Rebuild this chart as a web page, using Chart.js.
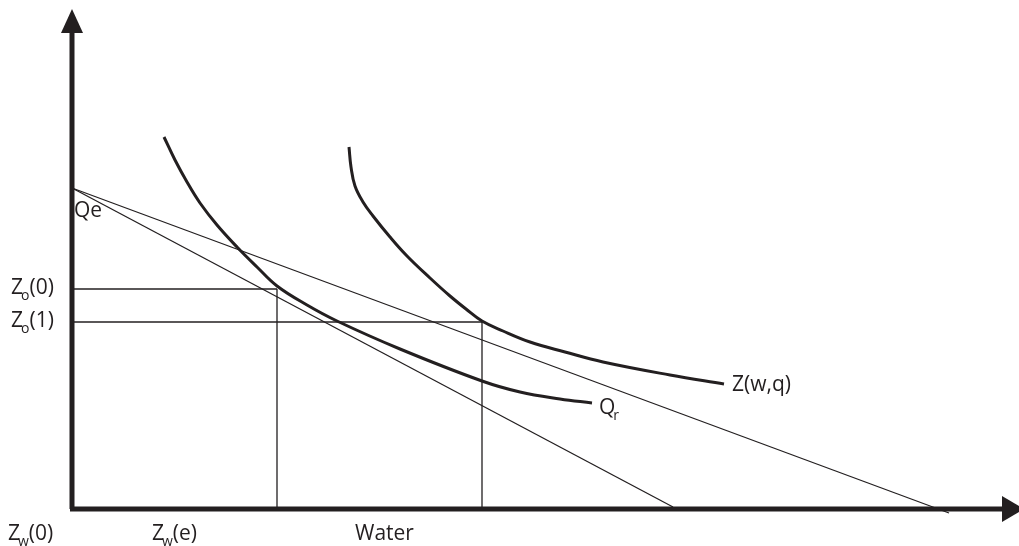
<!DOCTYPE html>
<html>
<head>
<meta charset="utf-8">
<script src="https://cdn.jsdelivr.net/npm/chart.js@4.4.1/dist/chart.umd.min.js"></script>
<style>
  html, body { margin: 0; padding: 0; background: #fff; }
  #wrap { width: 1019px; height: 546px; position: relative; }
</style>
</head>
<body>
<div id="wrap"><canvas id="chart"></canvas></div>
<script>
// curves (water on x, other goods on y)
const qrX = [92, 103, 115, 128, 145, 165, 185, 205, 235, 265, 328, 410, 448, 488, 520];
const qrY = [372, 349, 327, 306, 284, 262, 242, 223, 204, 188, 160, 128, 117, 110, 106];

const zX = [277, 279, 283, 291, 301, 318, 335, 358, 378, 394, 410, 431, 458, 493, 531, 598, 652];
const zY = [362, 342, 323, 307, 293, 272, 253, 231, 213, 200, 188, 178, 167, 157, 147, 134, 125];

// budget lines starting at Qe
const qeY = 321;
const budgetEndX = [877, 601];
const budgetEndY = [-4, 2];

// reference levels
const zoLevels = [220, 187];      // Zo(0), Zo(1)
const zwLevels = [205, 410];      // matching water amounts
const yTickLabels = ["0", "1"];

const INK = "#231f20";
const FONT = "'Open Sans', sans-serif";

function line(points, width) {
    return {
        data: points,
        showLine: true,
        borderColor: INK,
        borderWidth: width,
        pointRadius: 0,
        fill: false
    };
}

const datasets = [];

// axes
datasets.push(line([{ x: 0, y: 0 }, { x: 0, y: 478 }], 5));
datasets.push(line([{ x: -2, y: 0 }, { x: 932, y: 0 }], 5));

// budget lines
budgetEndX.forEach((bx, i) => {
    datasets.push(line([{ x: 0, y: qeY }, { x: bx, y: budgetEndY[i] }], 1.3));
});

// reference lines
zoLevels.forEach((lv, i) => {
    datasets.push(line([{ x: 0, y: lv }, { x: zwLevels[i], y: lv }], 1.3));
    datasets.push(line([{ x: zwLevels[i], y: lv }, { x: zwLevels[i], y: 0 }], 1.3));
});

// indifference curves
const curveQr = line(qrX.map((x, i) => ({ x: x, y: qrY[i] })), 3);
curveQr.tension = 0.4;
datasets.push(curveQr);
const curveZ = line(zX.map((x, i) => ({ x: x, y: zY[i] })), 3);
curveZ.tension = 0.4;
datasets.push(curveZ);

// text with optional subscript: parts = [[text, isSub], ...]
function drawLabel(ctx, px, py, parts) {
    let cx = px;
    parts.forEach(([t, sub]) => {
        ctx.font = (sub ? "14px " : "21px ") + FONT;
        ctx.fillText(t, sub ? cx - 2 : cx, sub ? py + 6 : py);
        cx += ctx.measureText(t).width - (sub ? 2 : 0);
    });
}

const decorations = {
    id: "decorations",
    afterDatasetsDraw(chart) {
        const ctx = chart.ctx;
        const xs = chart.scales.x, ys = chart.scales.y;
        const X = v => xs.getPixelForValue(v);
        const Y = v => ys.getPixelForValue(v);
        ctx.save();
        ctx.fillStyle = INK;

        // arrow heads
        ctx.beginPath();
        ctx.moveTo(X(0), Y(500));
        ctx.lineTo(X(0) - 11, Y(476));
        ctx.lineTo(X(0) + 11, Y(476));
        ctx.closePath();
        ctx.fill();
        ctx.beginPath();
        ctx.moveTo(X(952), Y(0));
        ctx.lineTo(X(930), Y(0) - 13);
        ctx.lineTo(X(930), Y(0) + 13);
        ctx.closePath();
        ctx.fill();

        ctx.textBaseline = "alphabetic";
        ctx.textAlign = "left";
        // y labels
        zoLevels.forEach((lv, i) => {
            drawLabel(ctx, 11, Y(lv) + 5, [["Z", false], ["o", true], ["(" + yTickLabels[i] + ")", false]]);
        });
        // x labels
        drawLabel(ctx, 8, 540, [["Z", false], ["w", true], ["(0)", false]]);
        drawLabel(ctx, 152, 540, [["Z", false], ["w", true], ["(e)", false]]);
        drawLabel(ctx, 355, 540, [["Water", false]]);
        // curve labels
        drawLabel(ctx, X(0) + 2, Y(qeY) + 29, [["Qe", false]]);
        const qrEnd = qrX.length - 1;
        drawLabel(ctx, X(qrX[qrEnd]) + 7, Y(qrY[qrEnd]) + 11, [["Q", false], ["r", true]]);
        const zEnd = zX.length - 1;
        drawLabel(ctx, X(zX[zEnd]) + 8, Y(zY[zEnd]) + 7, [["Z(w,q)", false]]);
        ctx.restore();
    }
};

new Chart(document.getElementById("chart"), {
    type: "scatter",
    data: { datasets: datasets },
    options: {
        responsive: true,
        maintainAspectRatio: false,
        animation: false,
        layout: { padding: 0 },
        clip: false,
        plugins: { legend: { display: false }, tooltip: { enabled: false } },
        scales: {
            x: { type: "linear", min: -72, max: 947, display: false },
            y: { type: "linear", min: -37, max: 509, display: false }
        }
    },
    plugins: [decorations]
});
</script>
</body>
</html>
